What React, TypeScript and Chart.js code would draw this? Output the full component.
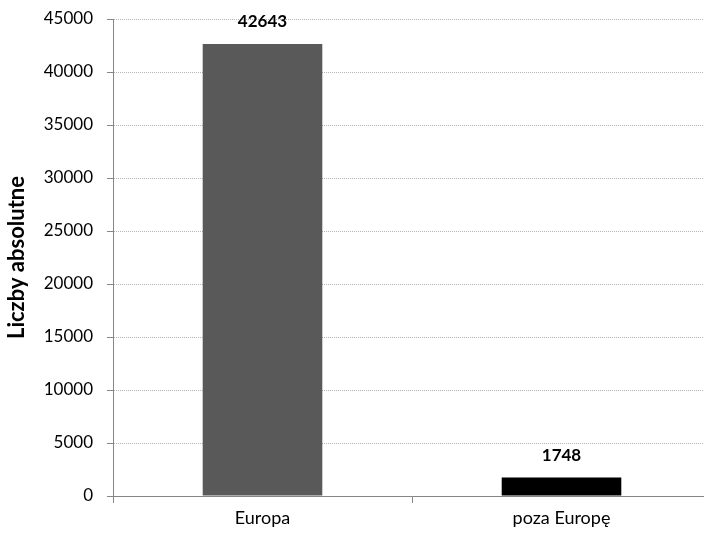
import React, { useEffect, useRef } from "react";
import { Chart, registerables } from "chart.js";

Chart.register(...registerables);

const categories: string[] = ["Europa", "poza Europę"];
const values: number[] = [42643, 1748];
const barColors: string[] = ["#595959", "#000000"];
const yTicks: number[] = [0, 5000, 10000, 15000, 20000, 25000, 30000, 35000, 40000, 45000];
const yTitle = "Liczby absolutne";

const FONT = "Lato, 'Liberation Sans', sans-serif";

const valueLabels = {
  id: "valueLabels",
  afterDatasetsDraw(chart: any) {
    const ctx = chart.ctx;
    const meta = chart.getDatasetMeta(0);
    ctx.save();
    ctx.font = `bold 17px ${FONT}`;
    ctx.fillStyle = "#000000";
    ctx.textAlign = "center";
    ctx.textBaseline = "middle";
    meta.data.forEach((bar: any, i: number) => {
      ctx.fillText(String(values[i]), bar.x, bar.y - 22);
    });
    ctx.restore();
  },
};

export default function App() {
  const ref = useRef<HTMLCanvasElement>(null);
  useEffect(() => {
    document.body.style.margin = "0";
    const canvas = ref.current!;
    const chart = new Chart(canvas, {
      type: "bar",
      data: {
        labels: categories,
        datasets: [
          {
            data: values,
            backgroundColor: barColors,
            borderWidth: 0,
            categoryPercentage: 0.4,
            barPercentage: 1,
          },
        ],
      },
      options: {
        responsive: false,
        animation: false,
        devicePixelRatio: 1,
        layout: { padding: { top: 19, right: 1, left: 0, bottom: 0 } },
        plugins: {
          legend: { display: false },
          tooltip: { enabled: false },
        },
        scales: {
          x: {
            grid: {
              drawOnChartArea: false,
              drawTicks: true,
              tickLength: 7,
              tickColor: "#868686",
              color: "#868686",
            },
            border: { display: true, color: "#868686", width: 1 },
            ticks: {
              color: "#000000",
              font: { family: FONT, size: 18 },
              padding: 4,
              maxRotation: 0,
            },
            afterFit: (scale: any) => {
              scale.height = 37;
              scale.paddingLeft = 0;
              scale.paddingRight = 0;
            },
          },
          y: {
            min: 0,
            max: 45000,
            afterBuildTicks: (scale: any) => {
              scale.ticks = yTicks.map((v) => ({ value: v }));
            },
            grid: {
              color: "#b4b4b4",
              tickColor: "#868686",
              tickLength: 6,
              lineWidth: 1,
            },
            border: { display: true, color: "#868686", width: 1, dash: [1, 1] },
            ticks: {
              color: "#000000",
              font: { family: FONT, size: 17 },
              padding: 14,
              callback: (v: any) => String(v),
            },
            title: {
              display: true,
              text: yTitle,
              color: "#000000",
              font: { family: FONT, size: 22, weight: "bold" },
              padding: { top: 4, bottom: 0 },
            },
            afterFit: (scale: any) => {
              scale.width = 113;
              scale.paddingTop = 0;
              scale.paddingBottom = 0;
            },
          },
        },
      },
      plugins: [valueLabels],
    });
    return () => chart.destroy();
  }, []);
  return (
    <div style={{ width: 704, height: 533, overflow: "hidden", position: "relative", background: "#fff" }}>
      <canvas ref={ref} width={712} height={533} style={{ width: 712, height: 533, display: "block" }} />
    </div>
  );
}
